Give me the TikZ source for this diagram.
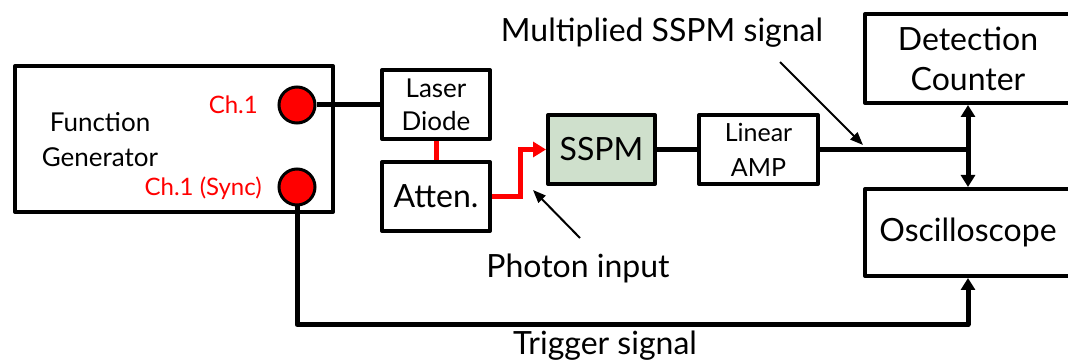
\documentclass[tikz,border=0pt]{standalone}
\usepackage{fontspec}
\setmainfont{Lato}
\usetikzlibrary{arrows.meta}
\definecolor{sspmgreen}{RGB}{207,224,204}
\definecolor{chred}{RGB}{255,0,0}
\begin{document}
\begin{tikzpicture}[x=1pt,y=-1pt,
  box/.style={draw=black,line width=4pt,rectangle,inner sep=0pt,align=center,line join=round},
  port/.style={draw=black,fill=chred,circle,line width=3pt,minimum size=36pt,inner sep=0pt},
  wire/.style={line width=5pt},
  redwire/.style={line width=5pt,draw=chred},
  lbl/.style={inner sep=0pt,align=center},
  big/.style={font=\fontsize{32}{40}\selectfont},
  mid/.style={font=\fontsize{26}{35}\selectfont},
  small/.style={font=\fontsize{24}{28}\selectfont,text=chred},
  pointer/.style={line width=2pt,-{Triangle[length=13pt,width=10pt]}}
]
\useasboundingbox (0,0) rectangle (1068,363);
\begin{scope}
\clip (0,0) rectangle (1068,363);
% boxes
\node[box,minimum width=318pt,minimum height=146pt] (fg) at (174,139) {};
\node[lbl,mid] (fgt) at (100,140) {Function\\Generator};
\node[port] (ch1) at (297,105) {};
\node[port] (sync) at (297,187) {};
\node[lbl,small,anchor=east] (ch1t) at (258,105) {Ch.1};
\node[lbl,small,anchor=east] (synct) at (262,188) {Ch.1 (Sync)};
\node[box,minimum width=108pt,minimum height=69pt,font=\fontsize{26}{33}\selectfont] (ld) at (436,104.5) {Laser\\Diode};
\node[box,big,minimum width=108pt,minimum height=69pt] (att) at (436,196.5) {Atten.};
\node[box,big,fill=sspmgreen,minimum width=107pt,minimum height=69pt] (sspm) at (601.5,149.5) {SSPM};
\node[box,minimum width=119pt,minimum height=69pt,font=\fontsize{25}{35}\selectfont] (amp) at (758.5,149.5) {Linear\\AMP};
\node[box,big,minimum width=206pt,minimum height=89pt] (dc) at (968,58.5) {Detection\\Counter};
\node[box,big,minimum width=206pt,minimum height=87pt] (osc) at (968,232.5) {Oscilloscope};
% labels
\node[lbl,big] (mult) at (662,33) {Multiplied SSPM signal};
\node[lbl,big] (photon) at (578,268) {Photon input};
\node[lbl,big] (trig) at (605,346) {Trigger signal};
% connectors
\draw[wire] (ch1.east) -- (ld.west |- ch1.east);
\draw[redwire] (ld.south) -- (att.north);
\draw[redwire,-{Triangle[length=13pt,width=15pt]}] (att.east) -- ++(28,0) |- (sspm.west);
\draw[wire] (sspm.east) -- (amp.west);
\coordinate (j) at (dc.south |- amp.east);
\draw[wire] (amp.east) -- (j);
\draw[wire,{Triangle[length=12pt,width=14pt]}-{Triangle[length=12pt,width=14pt]}] (dc.south) -- (osc.north);
\draw[wire,line join=round,-{Triangle[length=12pt,width=14pt]}] (sync.south) -- ++(0,118) -| (osc.south);
\coordinate (pa) at (580,238);
\coordinate (pb) at (533,190);
\draw[pointer] (pa) -- (pb);
\coordinate (ma) at (780,62);
\coordinate (mb) at (863,145);
\draw[pointer] (ma) -- (mb);
\end{scope}
\end{tikzpicture}
\end{document}
